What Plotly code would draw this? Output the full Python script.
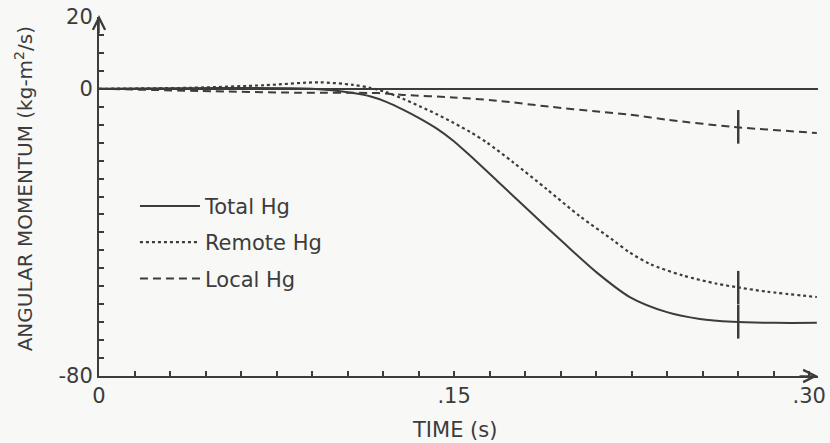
import plotly.graph_objects as go

# ---- data ----
total_t = [0.0, 0.05, 0.09, 0.1073, 0.1144, 0.1216, 0.1284, 0.1356, 0.1427, 0.1495, 0.1567,
           0.1681, 0.1820, 0.1959, 0.2103, 0.2242, 0.2399, 0.2538, 0.2677, 0.2855, 0.3032]
total_y = [0.0, 0.2, 0.0, -1.2, -2.1, -3.7, -5.8, -8.3, -11.1, -14.4, -18.6,
           -25.6, -34.2, -42.7, -51.2, -58.0, -62.2, -64.1, -64.9, -65.2, -65.2]

remote_t = [0.0, 0.04, 0.07, 0.093, 0.1073, 0.1144, 0.1216, 0.1284, 0.1356, 0.1427, 0.1495,
            0.1567, 0.1639, 0.1748, 0.1892, 0.2031, 0.2170, 0.2242, 0.2327, 0.2466, 0.2610,
            0.2707, 0.2821, 0.3032]
remote_y = [0.0, 0.3, 1.0, 1.8, 1.1, 0.3, -1.0, -2.8, -4.9, -7.1, -9.4,
            -12.0, -15.0, -20.4, -28.0, -35.5, -42.1, -45.6, -48.8, -52.0, -54.3,
            -55.4, -56.5, -58.0]

local_t = [0.0, 0.0426, 0.085, 0.118, 0.1284, 0.1495, 0.168, 0.1905, 0.2116, 0.2242,
           0.2399, 0.2677, 0.3032]
local_y = [0.0, -0.6, -1.1, -1.2, -1.7, -2.4, -3.3, -5.0, -6.4, -7.2,
           -8.6, -10.6, -12.3]

mark_t = [0.27, 0.27, 0.27]
mark_y = [-64.9, -55.4, -10.6]

x_tickvals = [0, 0.15, 0.30]
x_ticktext = ["0", ".15", ".30"]
y_tickvals = [-80, 0, 20]
y_ticktext = ["-80", "0", "20"]

INK = "#3c3c3c"
BG = "#f8f8f6"
FONT = "DejaVu Sans"
FS = 21

fig = go.Figure()
fig.add_trace(go.Scatter(x=total_t, y=total_y, mode="lines", name="Total Hg",
                         line=dict(color=INK, width=2, shape="spline", smoothing=0.8), legendgroup="a"))
fig.add_trace(go.Scatter(x=remote_t, y=remote_y, mode="lines", name="Remote Hg",
                         line=dict(color=INK, width=2.2, dash="3px,3px", shape="spline", smoothing=0.8),
                         legendgroup="b"))
fig.add_trace(go.Scatter(x=local_t, y=local_y, mode="lines", name="Local Hg",
                         line=dict(color=INK, width=2, dash="8px,5px", shape="spline", smoothing=0.8),
                         legendgroup="c"))
fig.add_trace(go.Scatter(x=mark_t, y=mark_y, mode="markers", showlegend=False,
                         marker=dict(symbol="line-ns", size=24, line=dict(color=INK, width=2.5))))

fig.update_layout(
    width=830, height=443,
    margin=dict(l=99, r=12, t=17, b=67),
    paper_bgcolor=BG, plot_bgcolor=BG,
    font=dict(family=FONT, size=FS, color=INK),
    showlegend=True,
    legend=dict(x=0.05, y=0.53, xanchor="left", yanchor="top",
                bgcolor="rgba(0,0,0,0)", font=dict(family=FONT, size=FS, color=INK),
                traceorder="grouped", tracegroupgap=6, itemwidth=60),
)
fig.update_xaxes(range=[0, 0.3037], showgrid=False, zeroline=False, automargin=False,
                 showline=True, linecolor=INK, linewidth=2,
                 tickvals=x_tickvals, ticktext=x_ticktext, ticklabeloverflow="allow",
                 ticks="inside", ticklen=5, tickwidth=1.5, tickcolor=INK,
                 minor=dict(dtick=0.015, ticks="inside", ticklen=5, tickwidth=1.5, tickcolor=INK),
                 tickfont=dict(family=FONT, size=FS, color=INK))
fig.update_yaxes(range=[-80, 20], showgrid=False, automargin=False,
                 zeroline=True, zerolinecolor=INK, zerolinewidth=2,
                 showline=True, linecolor=INK, linewidth=2,
                 tickvals=y_tickvals, ticktext=y_ticktext, ticklabeloverflow="allow",
                 ticks="inside", ticklen=5, tickwidth=1.5, tickcolor=INK,
                 minor=dict(dtick=5, ticks="inside", ticklen=5, tickwidth=1.5, tickcolor=INK),
                 tickfont=dict(family=FONT, size=FS, color=INK))

# axis arrows
fig.add_annotation(x=1, y=-80, xref="paper", yref="y", ax=-20, ay=0, axref="pixel", ayref="pixel",
                   text="", showarrow=True, arrowhead=5, arrowsize=1.6, arrowwidth=1.5, arrowcolor=INK)
fig.add_annotation(x=0, y=1, xref="paper", yref="paper", ax=0, ay=20, text="", yshift=2,
                   showarrow=True, arrowhead=5, arrowsize=1.6, arrowwidth=1.5, arrowcolor=INK)

# axis titles
fig.add_annotation(text="ANGULAR MOMENTUM (kg-m<sup>2</sup>/s)", xref="paper", yref="paper",
                   x=0, y=0.52, xshift=-75, textangle=-90, showarrow=False,
                   xanchor="center", yanchor="middle", font=dict(family=FONT, size=20, color=INK))
fig.add_annotation(text="TIME (s)", xref="paper", yref="paper", x=0.495, y=0, yshift=-54,
                   showarrow=False, xanchor="center", yanchor="middle",
                   font=dict(family=FONT, size=FS, color=INK))

# remove the default 8px page margin so the figure fills the 830x443 window exactly
fig.write_html("out.html", config={"displayModeBar": False},
               post_script="document.body.style.margin='0';")
